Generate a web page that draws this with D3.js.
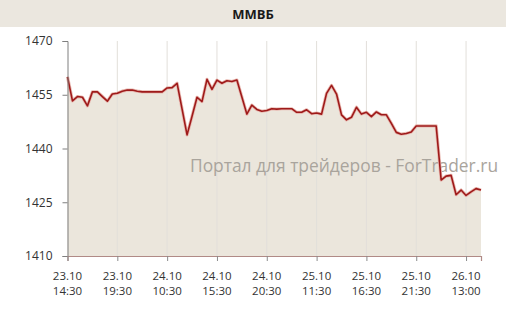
<!DOCTYPE html>
<html lang="ru">
<head>
<meta charset="utf-8">
<script src="https://d3js.org/d3.v7.min.js"></script>
<style>
  body { margin: 0; background: #fff; }
  svg text { font-family: "Open Sans", "DejaVu Sans", sans-serif; }
</style>
</head>
<body>
<div id="chart"></div>
<script>
// chart data
var title = "ММВБ";
var watermark = "Портал для трейдеров - ForTrader.ru";
var prices = [
  1460.0, 1453.3, 1454.5, 1454.3, 1451.9, 1455.8, 1455.8, 1454.5, 1453.2, 1455.2,
  1455.4, 1456.0, 1456.3, 1456.3, 1456.0, 1455.8, 1455.8, 1455.8, 1455.8, 1455.8,
  1456.9, 1457.0, 1458.2, 1451.0, 1443.8, 1449.0, 1454.3, 1453.1, 1459.3, 1456.5,
  1459.1, 1458.2, 1458.9, 1458.7, 1459.1, 1454.4, 1449.6, 1452.1, 1450.9, 1450.4,
  1450.6, 1451.1, 1451.0, 1451.1, 1451.1, 1451.1, 1450.1, 1450.1, 1450.8, 1449.7,
  1449.9, 1449.6, 1455.4, 1457.6, 1455.2, 1449.4, 1448.0, 1448.7, 1451.5, 1449.6,
  1450.1, 1448.9, 1450.2, 1449.4, 1449.4, 1447.0, 1444.5, 1444.0, 1444.2, 1444.6,
  1446.3, 1446.3, 1446.3, 1446.3, 1446.3, 1431.2, 1432.3, 1432.5, 1427.1, 1428.4,
  1426.9, 1427.9, 1428.8, 1428.4
];
var tickIndex = [0, 10, 20, 30, 40, 50, 60, 70, 80];
var tickDates = ["23.10", "23.10", "24.10", "24.10", "24.10", "25.10", "25.10", "25.10", "26.10"];
var tickTimes = ["14:30", "19:30", "10:30", "15:30", "20:30", "11:30", "16:30", "21:30", "13:00"];
var yTicks = [1410, 1425, 1440, 1455, 1470];

var W = 506, H = 313;
var plotLeft = 67.5, plotRight = 481, plotTop = 41, plotBottom = 256;

var svg = d3.select("#chart").append("svg")
    .attr("width", W)
    .attr("height", H);

// title bar
svg.append("rect")
    .attr("x", 0).attr("y", 0)
    .attr("width", W).attr("height", 27)
    .attr("fill", "#ebe7df");
svg.append("text")
    .attr("x", W / 2).attr("y", 19)
    .attr("text-anchor", "middle")
    .style("font-size", "13px")
    .style("font-weight", "bold")
    .attr("fill", "#1a1a1a")
    .text(title);

var x = d3.scaleLinear().domain([0, prices.length - 1]).range([plotLeft, plotRight]);
var y = d3.scaleLinear().domain([1410, 1470]).range([plotBottom, plotTop]);

// area under the line
var area = d3.area()
    .x(function(d, i) { return x(i); })
    .y0(y(1410))
    .y1(function(d) { return y(d); });
svg.append("path")
    .datum(prices)
    .attr("d", area)
    .attr("fill", "#ebe6dc");

// vertical grid lines
svg.append("g")
    .selectAll("line")
    .data(tickIndex.slice(1))
    .enter().append("line")
        .attr("x1", function(d) { return x(d); })
        .attr("x2", function(d) { return x(d); })
        .attr("y1", plotTop)
        .attr("y2", plotBottom)
        .attr("stroke", "#e2dfda")
        .attr("stroke-width", 1);

// watermark
svg.append("text")
    .attr("x", 190).attr("y", 172)
    .style("font-size", "17.4px")
    .attr("fill", "#a9a49c")
    .text(watermark);

// price line
var line = d3.line()
    .x(function(d, i) { return x(i); })
    .y(function(d) { return y(d); });
svg.append("path")
    .datum(prices)
    .attr("d", line)
    .attr("fill", "none")
    .attr("stroke", "#e8b8b0")
    .attr("stroke-width", 3.2)
    .attr("stroke-linejoin", "round");
svg.append("path")
    .datum(prices)
    .attr("d", line)
    .attr("fill", "none")
    .attr("stroke", "#9e1a1a")
    .attr("stroke-width", 1.6)
    .attr("stroke-linejoin", "round");

// y axis
var yAxis = svg.append("g")
    .attr("transform", "translate(" + plotLeft + ",0)")
    .call(d3.axisLeft(y).tickValues(yTicks).tickSize(5).tickPadding(10).tickFormat(d3.format("d")));
yAxis.select(".domain").attr("stroke", "#7f7f7f");
yAxis.selectAll(".tick line").attr("stroke", "#7f7f7f");
yAxis.selectAll(".tick text")
    .style("font-size", "12px")
    .attr("fill", "#333");

// x axis
var xAxis = svg.append("g")
    .attr("transform", "translate(0," + plotBottom + ")")
    .call(d3.axisBottom(x).tickValues(tickIndex).tickSize(5).tickFormat(""));
xAxis.select(".domain").attr("stroke", "#b08a86").attr("stroke-width", 1.2);
xAxis.selectAll(".tick line").attr("stroke", "#8a8a8a");

var labels = svg.append("g");
tickIndex.forEach(function(t, k) {
    var lab = labels.append("text")
        .attr("text-anchor", "middle")
        .style("font-size", "11.5px")
        .attr("fill", "#333");
    lab.append("tspan").attr("x", x(t)).attr("y", 280).text(tickDates[k]);
    lab.append("tspan").attr("x", x(t)).attr("y", 295).text(tickTimes[k]);
});
</script>
</body>
</html>
